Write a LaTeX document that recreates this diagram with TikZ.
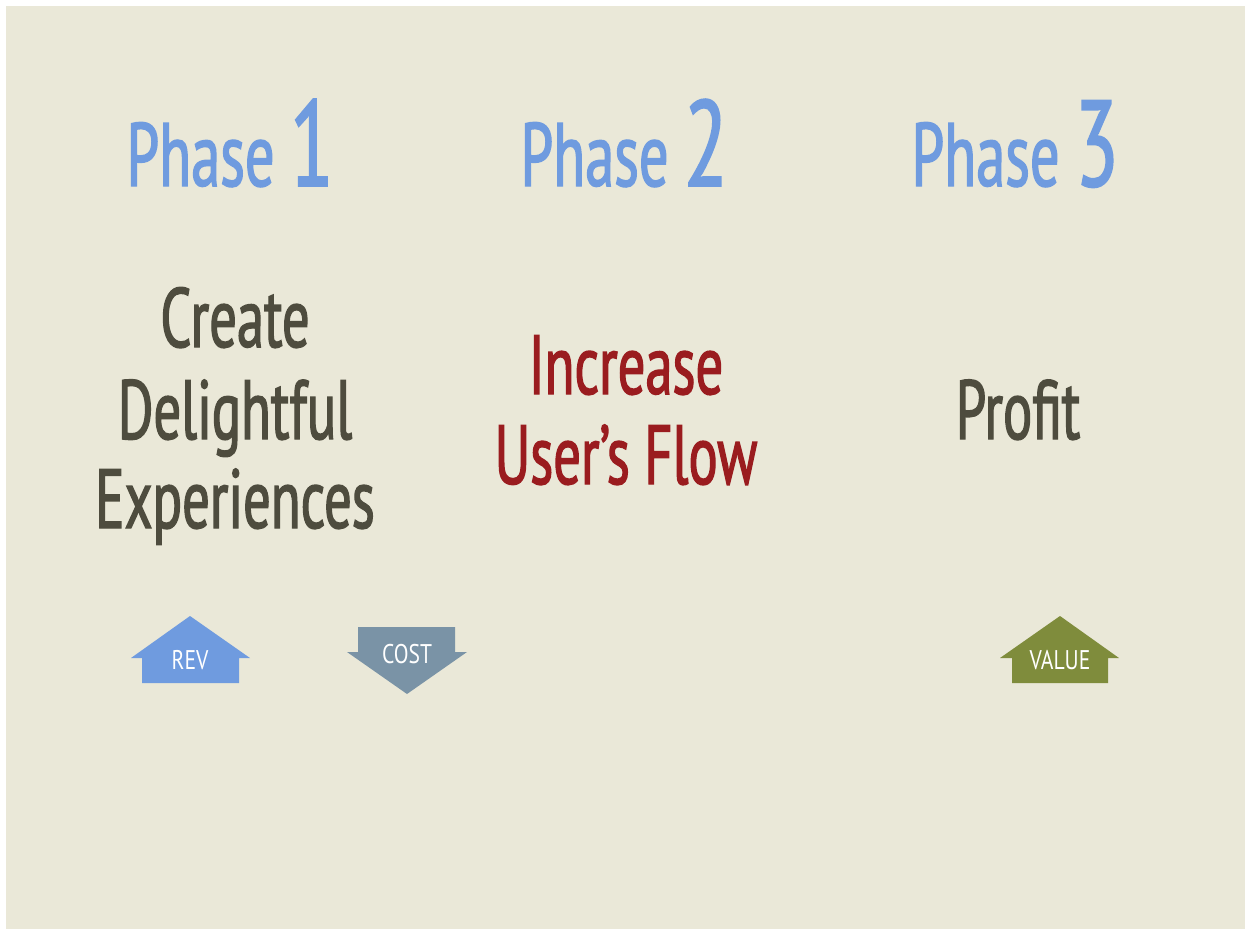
\documentclass[tikz,border=0pt]{standalone}
\usepackage{fontspec}
\newfontfamily\cond[FakeStretch=0.65,FakeBold=1.5]{PT Sans}
\newfontfamily\condlab[FakeStretch=0.8]{PT Sans}
\definecolor{bg}{HTML}{EAE8D8}
\definecolor{phaseblue}{HTML}{6F9BDF}
\definecolor{darktxt}{HTML}{4E4C3E}
\definecolor{redtxt}{HTML}{9A1C1F}
\definecolor{costc}{HTML}{7A93A6}
\definecolor{valuec}{HTML}{7F8C3C}
\tikzset{
  phase/.style={anchor=base, text=phaseblue, inner sep=0pt, font=\cond\fontsize{90}{90}\selectfont},
  big/.style={anchor=base, inner sep=0pt, font=\cond\fontsize{84}{84}\selectfont},
  lab/.style={anchor=base, text=white, inner sep=0pt, font=\condlab\fontsize{27}{27}\selectfont},
}
\newcommand{\bignum}[1]{{\fontsize{122}{122}\selectfont #1}}
\begin{document}
\begin{tikzpicture}[x=1pt,y=-1pt]
\useasboundingbox (0,0) rectangle (1245,930);
\fill[white] (0,0) rectangle (1245,930);
\fill[bg] (6,6) rectangle (1245,929);
% phases
\node[phase] (p1) at (230,186) {Phase \bignum{1}};
\node[phase] (p2) at (624,186) {Phase \bignum{2}};
\node[phase] (p3) at (1015,186) {Phase \bignum{3}};
% column 1
\node[big,text=darktxt] (c1a) at (235,347) {Create};
\node[big,text=darktxt] (c1b) at (235,439) {Delightful};
\node[big,text=darktxt] (c1c) at (235,528) {Experiences};
% column 2
\node[big,text=redtxt] (c2a) at (626,394) {Increase};
\node[big,text=redtxt] (c2b) at (626,484) {User’s Flow};
% column 3
\node[big,text=darktxt] (c3a) at (1018,439) {Profit};
% arrows
\fill[phaseblue] (190,616) -- (250,658) -- (239,658) -- (239,683) -- (142,683) -- (142,658) -- (131,658) -- cycle;
\node[lab] (rev) at (190,669) {REV};
\fill[costc] (358,627) -- (455,627) -- (455,652) -- (467,652) -- (407,694) -- (347,652) -- (358,652) -- cycle;
\node[lab] (cost) at (407,663) {COST};
\fill[valuec] (1060,616) -- (1119,658) -- (1108,658) -- (1108,683) -- (1012,683) -- (1012,658) -- (1000,658) -- cycle;
\node[lab] (value) at (1060,669) {VALUE};
\end{tikzpicture}
\end{document}
